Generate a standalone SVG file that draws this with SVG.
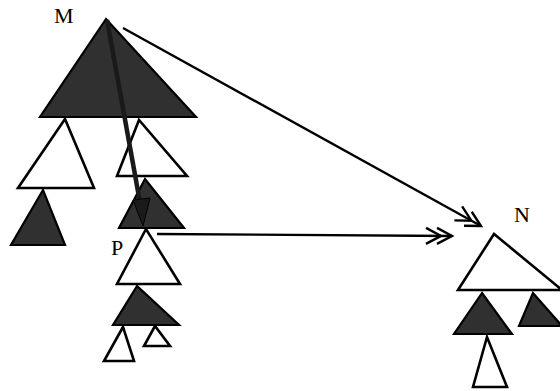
<svg xmlns="http://www.w3.org/2000/svg" width="560" height="391" viewBox="0 0 560 391">
<style>
.w{fill:#fff;stroke:#000;stroke-width:2.6;stroke-linejoin:miter}
.d{fill:#303030;stroke:#000;stroke-width:2.2}
.lbl{font-family:"Liberation Serif",serif;font-size:22px;fill:#000}
.con{fill:none;stroke:#000;stroke-width:2.4}
</style>
<defs>
<marker id="dbl" markerWidth="34" markerHeight="22" viewBox="-30 -11 34 22" refX="0" refY="0" orient="auto" markerUnits="userSpaceOnUse">
<path d="M-15,-8 L0,0 L-15,8 M-26,-8 L-11,0 L-26,8" fill="none" stroke="#000" stroke-width="2.4"/>
</marker>
</defs>
<rect width="560" height="391" fill="#fff"/>
<g id="M">
<polygon class="d" points="106,19 40,117 196,117"/>
<text class="lbl" x="54" y="23">M</text>
</g>
<g id="M-left"><polygon class="w" points="65,119 18,188 94,188"/></g>
<g id="M-left-sub"><polygon class="d" points="43,190 11,245 65,245"/></g>
<g id="M-right"><polygon class="w" points="139,120 117,176 187,176"/></g>
<g id="M-right-sub"><polygon class="d" points="145,179 119,228 184,228"/></g>
<g id="P">
<polygon class="w" points="146,229 117,284 180,284"/>
<text class="lbl" x="111" y="255">P</text>
</g>
<g id="P-sub"><polygon class="d" points="137,286 113,325 179,325"/></g>
<g id="P-sub-left"><polygon class="w" points="123,327 104,361 134,361"/></g>
<g id="P-sub-right"><polygon class="w" points="155,326 144,346 170,346"/></g>
<g id="N">
<polygon class="w" points="494,234 458,290 562,290"/>
<text class="lbl" x="514" y="222">N</text>
</g>
<g id="N-left"><polygon class="d" points="482,293 454,334 512,334"/></g>
<g id="N-right"><polygon class="d" points="533,293 519,326 562,326"/></g>
<g id="N-left-sub"><polygon class="w" points="487,337 473,387 507,387"/></g>
<g id="connectors">
<line class="con" x1="123" y1="28" x2="481" y2="226" marker-end="url(#dbl)"/>
<line class="con" x1="157" y1="234" x2="452" y2="236" marker-end="url(#dbl)"/>
<g id="M-to-P">
<line x1="107" y1="20" x2="141" y2="208" stroke="#1a1a1a" stroke-width="4.5"/>
<polygon points="143,226 133,200 150,198" fill="#1a1a1a" stroke="#000" stroke-width="1"/>
</g>
</g>
</svg>
